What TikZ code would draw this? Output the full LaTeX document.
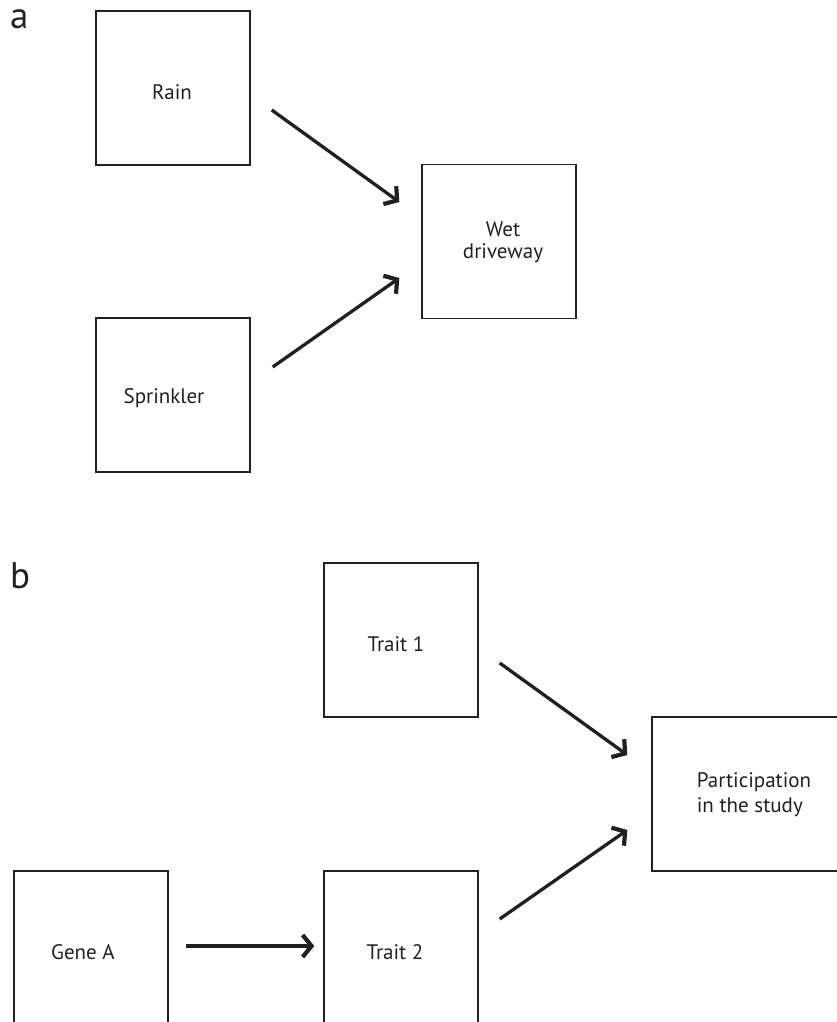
\documentclass[tikz,border=0pt]{standalone}
\usepackage{fontspec}
\setmainfont{PT Sans}
\usetikzlibrary{arrows.meta}
\definecolor{ink}{HTML}{231F20}
\tikzset{
  box/.style={draw=ink, line width=1.4pt, minimum width=154pt, minimum height=154pt, inner sep=0pt},
  lbl/.style={text=ink, inner sep=0pt, align=center, font=\fontsize{21}{23}\selectfont},
  arr/.style={draw=ink, line width=3.3pt, -{Straight Barb[length=9pt,width=22pt,line width=4.2pt]}},
  panel/.style={text=ink, inner sep=0pt, anchor=base west, font=\fontsize{37}{40}\selectfont}
}
\begin{document}
\begin{tikzpicture}[x=1pt,y=-1pt]
\useasboundingbox (0,0) rectangle (837,1022);
\clip (0,0) rectangle (837,1022);
\node[panel] (la) at (10,29) {a};
\node[panel] (lb) at (10,588) {b};
\node[box, label={[lbl,xshift=-1pt,yshift=-4pt]center:Rain}] (rain) at (173,88) {};
\node[box, label={[lbl,xshift=-9pt,yshift=-3pt]center:Sprinkler}] (spr) at (173,395) {};
\node[box, label={[lbl,xshift=4pt,yshift=-1pt,font=\fontsize{21}{22}\selectfont]center:Wet\\driveway}] (wet) at (499,241.5) {};
\node[box, label={[lbl,xshift=-5pt,yshift=-4pt]center:Trait 1}] (t1) at (401,640) {};
\node[box, minimum width=204pt, label={[lbl,align=left,yshift=-1pt,font=\fontsize{21}{25}\selectfont]center:Participation\\in the study}] (part) at (754,794) {};
\node[box, label={[lbl,xshift=-8pt,yshift=-4pt]center:Gene A}] (gene) at (91,948) {};
\node[box, label={[lbl,xshift=-6pt,yshift=-4pt]center:Trait 2}] (t2) at (401,948) {};
\draw[arr] ([shift={(21,22)}]rain.east) -- ([shift={(-22,-39.5)}]wet.west);
\draw[arr] ([shift={(22,-28)}]spr.east) -- ([shift={(-22,36.5)}]wet.west);
\draw[arr] ([shift={(21,23)}]t1.east) -- ([shift={(-24,-39)}]part.west);
\draw[arr] ([shift={(21,-29)}]t2.east) -- ([shift={(-24,36)}]part.west);
\draw[arr] ([shift={(17,-2)}]gene.east) -- ([shift={(-9,-2)}]t2.west);
\end{tikzpicture}
\end{document}
